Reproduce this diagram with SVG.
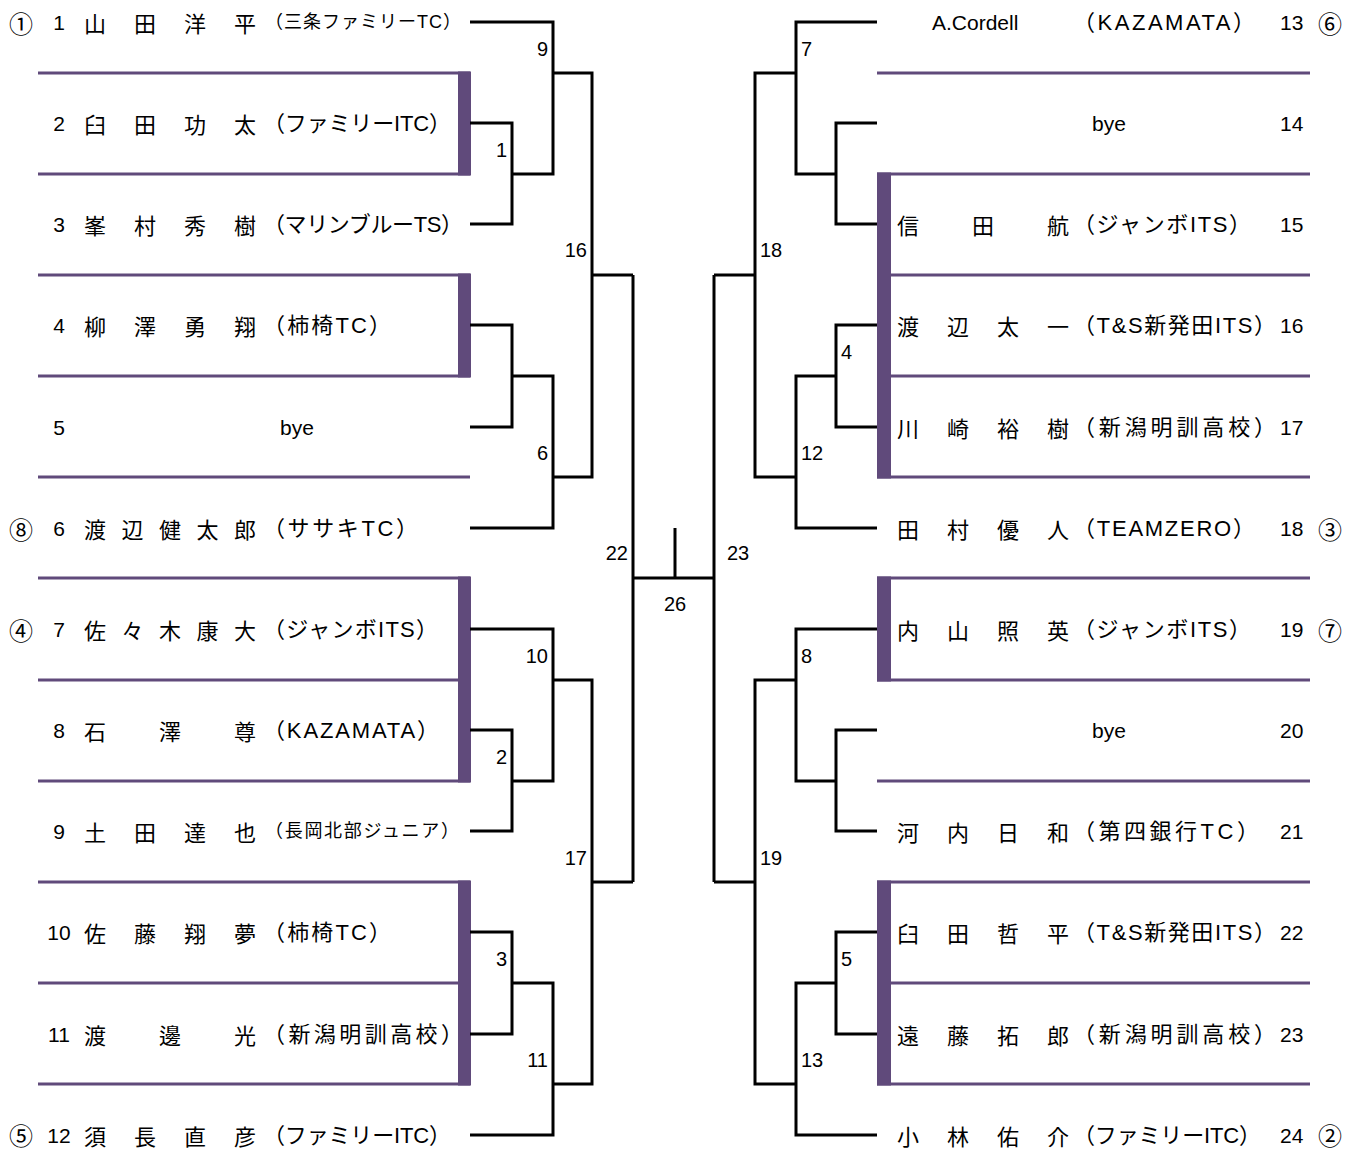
<svg xmlns="http://www.w3.org/2000/svg" width="1355" height="1150" viewBox="0 0 1355 1150">
<style>
text{fill:#000}
.nm{font-family:"Noto Sans CJK JP",sans-serif;font-size:22px;text-anchor:middle;dominant-baseline:central}
.tm{font-family:"Liberation Sans","Noto Sans CJK JP",sans-serif;font-size:22px;dominant-baseline:central}
.ts{font-family:"Liberation Sans","Noto Sans CJK JP",sans-serif;font-size:18px;dominant-baseline:central}
.no{font-family:"Liberation Sans",sans-serif;font-size:21px;dominant-baseline:central}
.nl{text-anchor:middle}
.sd{font-family:"Noto Sans CJK JP",sans-serif;font-size:24px;text-anchor:middle;dominant-baseline:central}
.lb{font-family:"Liberation Sans",sans-serif;font-size:20px;dominant-baseline:central}
.e{text-anchor:end}
.m{text-anchor:middle}
.band{stroke:#604A7B;stroke-width:3;fill:none}
.bar{fill:#604A7B}
.con{stroke:#000;stroke-width:3;fill:none;stroke-linejoin:miter}
</style>
<g id="bands">
<path class="band" d="M38 73H470M38 174H470M38 275H470M38 376H470M38 477H470M38 578H470M38 680H470M38 781H470M38 882H470M38 983H470M38 1084H470"/>
<path class="band" d="M877 73H1310M877 174H1310M877 275H1310M877 376H1310M877 477H1310M877 578H1310M877 680H1310M877 781H1310M877 882H1310M877 983H1310M877 1084H1310"/>
<rect class="bar" x="458" y="71.5" width="13" height="104"/>
<rect class="bar" x="458" y="273.5" width="13" height="104"/>
<rect class="bar" x="458" y="576.5" width="13" height="206"/>
<rect class="bar" x="458" y="880.5" width="13" height="205"/>
<rect class="bar" x="877" y="172.5" width="14" height="306"/>
<rect class="bar" x="877" y="576.5" width="14" height="105"/>
<rect class="bar" x="877" y="880.5" width="14" height="205"/>
</g>
<g id="connectors">
<path class="con" d="M470 22H553V174H512M470 123H512V224H470M553 73H592V477H553M592 275H633"/>
<path class="con" d="M470 325H512V427H470M512 376H553V528H470"/>
<path class="con" d="M470 629H553V781H512M470 730H512V831H470M553 680H592V1084H553M592 882H633"/>
<path class="con" d="M470 932H512V1034H470M512 983H553V1135H470"/>
<path class="con" d="M633 275V882M633 578H714M675 528V578"/>
<path class="con" d="M877 22H796V174H836M877 123H836V224H877M796 73H755V477H796M755 275H714"/>
<path class="con" d="M877 325H836V427H877M836 376H796V528H877"/>
<path class="con" d="M877 629H796V781H836M877 730H836V831H877M796 680H755V1084H796M755 882H714"/>
<path class="con" d="M877 932H836V1034H877M836 983H796V1135H877"/>
<path class="con" d="M714 275V882"/>
</g>
<g id="match-labels">
<text class="lb e" x="548" y="49">9</text>
<text class="lb e" x="507" y="150">1</text>
<text class="lb e" x="548" y="453">6</text>
<text class="lb e" x="587" y="250">16</text>
<text class="lb e" x="548" y="656">10</text>
<text class="lb e" x="507" y="757">2</text>
<text class="lb e" x="507" y="959">3</text>
<text class="lb e" x="548" y="1060">11</text>
<text class="lb e" x="587" y="858">17</text>
<text class="lb e" x="628" y="553">22</text>
<text class="lb m" x="675" y="604">26</text>
<text class="lb" x="727" y="553">23</text>
<text class="lb" x="801" y="49">7</text>
<text class="lb" x="760" y="250">18</text>
<text class="lb" x="841" y="352">4</text>
<text class="lb" x="801" y="453">12</text>
<text class="lb" x="801" y="656">8</text>
<text class="lb" x="760" y="858">19</text>
<text class="lb" x="841" y="959">5</text>
<text class="lb" x="801" y="1060">13</text>
</g>
<g id="p1"><text class="sd" x="21" y="22">①</text><text class="no nl" x="59" y="22">1</text><text class="nm" x="95 145 195 245" y="22">山田洋平</text><text class="ts" x="265" y="22" textLength="196">（三条ファミリーTC）</text></g>
<g id="p2"><text class="no nl" x="59" y="123">2</text><text class="nm" x="95 145 195 245" y="123">臼田功太</text><text class="tm" x="263" y="123" textLength="188">（ファミリーITC）</text></g>
<g id="p3"><text class="no nl" x="59" y="224">3</text><text class="nm" x="95 145 195 245" y="224">峯村秀樹</text><text class="tm" x="263" y="224" textLength="200">（マリンブルーTS）</text></g>
<g id="p4"><text class="no nl" x="59" y="325">4</text><text class="nm" x="95 145 195 245" y="325">柳澤勇翔</text><text class="tm" x="263" y="325" textLength="128">（柿椅TC）</text></g>
<g id="p5"><text class="no nl" x="59" y="427">5</text><text class="no" x="280" y="427">bye</text></g>
<g id="p6"><text class="sd" x="21" y="528">⑧</text><text class="no nl" x="59" y="528">6</text><text class="nm" x="95 132.5 170 207.5 245" y="528">渡辺健太郎</text><text class="tm" x="263" y="528" textLength="155">（ササキTC）</text></g>
<g id="p7"><text class="sd" x="21" y="629">④</text><text class="no nl" x="59" y="629">7</text><text class="nm" x="95 132.5 170 207.5 245" y="629">佐々木康大</text><text class="tm" x="263" y="629" textLength="175">（ジャンボITS）</text></g>
<g id="p8"><text class="no nl" x="59" y="730">8</text><text class="nm" x="95 170 245" y="730">石澤尊</text><text class="tm" x="263" y="730" textLength="176">（KAZAMATA）</text></g>
<g id="p9"><text class="no nl" x="59" y="831">9</text><text class="nm" x="95 145 195 245" y="831">土田達也</text><text class="ts" x="265" y="831" textLength="194">（長岡北部ジュニア）</text></g>
<g id="p10"><text class="no nl" x="59" y="932">10</text><text class="nm" x="95 145 195 245" y="932">佐藤翔夢</text><text class="tm" x="263" y="932" textLength="128">（柿椅TC）</text></g>
<g id="p11"><text class="no nl" x="59" y="1034">11</text><text class="nm" x="95 170 245" y="1034">渡邊光</text><text class="tm" x="263" y="1034" textLength="200">（新潟明訓高校）</text></g>
<g id="p12"><text class="sd" x="21" y="1134">⑤</text><text class="no nl" x="59" y="1135">12</text><text class="nm" x="95 145 195 245" y="1135">須長直彦</text><text class="tm" x="263" y="1135" textLength="188">（ファミリーITC）</text></g>
<g id="p13"><text class="no" x="932" y="22">A.Cordell</text><text class="tm" x="1073" y="22" textLength="182">（KAZAMATA）</text><text class="no" x="1280" y="22">13</text><text class="sd" x="1330" y="22">⑥</text></g>
<g id="p14"><text class="no" x="1092" y="123">bye</text><text class="no" x="1280" y="123">14</text></g>
<g id="p15"><text class="nm" x="908 983 1058" y="224">信田航</text><text class="tm" x="1073" y="224" textLength="178">（ジャンボITS）</text><text class="no" x="1280" y="224">15</text></g>
<g id="p16"><text class="nm" x="908 958 1008 1058" y="325">渡辺太一</text><text class="tm" x="1073" y="325" textLength="203">（T&amp;S新発田ITS）</text><text class="no" x="1280" y="325">16</text></g>
<g id="p17"><text class="nm" x="908 958 1008 1058" y="427">川崎裕樹</text><text class="tm" x="1073" y="427" textLength="203">（新潟明訓高校）</text><text class="no" x="1280" y="427">17</text></g>
<g id="p18"><text class="nm" x="908 958 1008 1058" y="528">田村優人</text><text class="tm" x="1073" y="528" textLength="182">（TEAMZERO）</text><text class="no" x="1280" y="528">18</text><text class="sd" x="1330" y="528">③</text></g>
<g id="p19"><text class="nm" x="908 958 1008 1058" y="629">内山照英</text><text class="tm" x="1073" y="629" textLength="178">（ジャンボITS）</text><text class="no" x="1280" y="629">19</text><text class="sd" x="1330" y="629">⑦</text></g>
<g id="p20"><text class="no" x="1092" y="730">bye</text><text class="no" x="1280" y="730">20</text></g>
<g id="p21"><text class="nm" x="908 958 1008 1058" y="831">河内日和</text><text class="tm" x="1073" y="831" textLength="186">（第四銀行TC）</text><text class="no" x="1280" y="831">21</text></g>
<g id="p22"><text class="nm" x="908 958 1008 1058" y="932">臼田哲平</text><text class="tm" x="1073" y="932" textLength="203">（T&amp;S新発田ITS）</text><text class="no" x="1280" y="932">22</text></g>
<g id="p23"><text class="nm" x="908 958 1008 1058" y="1034">遠藤拓郎</text><text class="tm" x="1073" y="1034" textLength="203">（新潟明訓高校）</text><text class="no" x="1280" y="1034">23</text></g>
<g id="p24"><text class="nm" x="908 958 1008 1058" y="1135">小林佑介</text><text class="tm" x="1073" y="1135" textLength="188">（ファミリーITC）</text><text class="no" x="1280" y="1135">24</text><text class="sd" x="1330" y="1134">②</text></g>
</svg>
